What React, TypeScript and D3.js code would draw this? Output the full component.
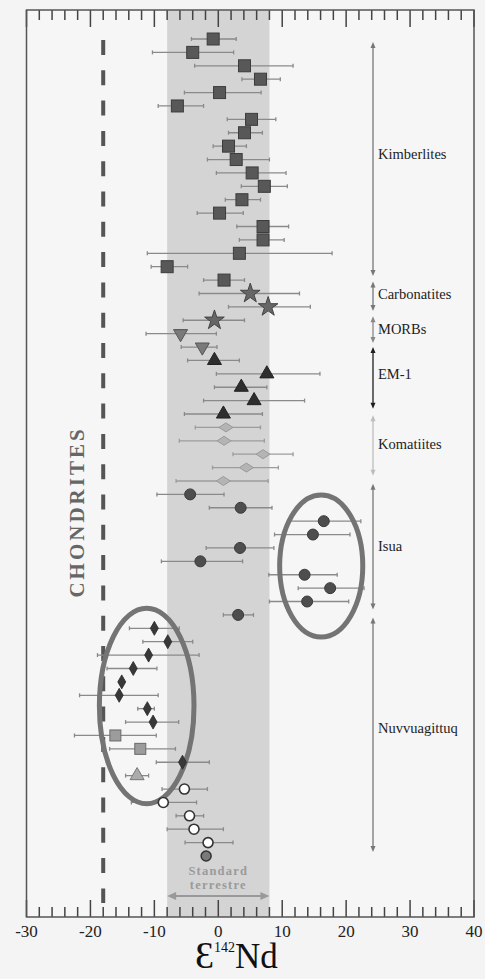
import React from 'react';
import * as d3 from 'd3';

const W = 485;
const H = 979;

// ε142Nd values, one per row (top to bottom)
const values = [
  -0.8, -4.0, 4.1, 6.6, 0.2, -6.4, 5.2, 4.1, 1.6, 2.8, 5.3, 7.2, 3.7, 0.2, 7.0, 7.0, 3.3, -8.0,
  0.9, 5.0, 7.8, -0.6,
  -5.9, -2.5,
  -0.6, 7.6, 3.6, 5.6, 0.8,
  1.2, 0.9, 7.0, 4.4, 0.8,
  -4.4, 3.5, 16.5, 14.8, 3.4, -2.8, 13.5, 17.5, 13.9, 3.1,
  -10.0, -7.9, -10.9, -13.3, -15.1, -15.5, -11.1, -10.2,
  -16.1, -12.2, -5.6, -12.7,
  -5.3, -8.6, -4.5, -3.8, -1.6, -1.9,
];
const errLow = [
  -4.2, -10.3, -3.7, 3.7, -5.3, -9.4, 1.4, 1.6, -0.8, -1.7, -0.3, 3.6, 1.1, -3.3, 2.9, 3.3, -11.1, -10.5,
  -2.3, -3.0, 1.6, -5.5,
  -11.3, -5.8,
  -4.8, -0.3, -0.6, -2.3, -5.3,
  -3.6, -6.1, 2.3, -0.9, -6.6,
  -9.6, -1.4, 10.9, 8.8, -1.9, -8.9, 7.9, 12.5, 8.0, 0.8,
  -13.9, -11.8, -18.9, -17.4, -15.1, -21.7, -12.6, -14.5,
  -22.5, -17.0, -9.7, -14.5,
  -8.8, -13.6, -6.6, -8.0, -5.2, -1.9,
];
const errHigh = [
  2.8, 2.4, 11.7, 9.7, 6.7, -2.3, 9.0, 6.9, 4.4, 8.0, 10.6, 10.8, 6.6, 3.9, 11.0, 10.3, 17.8, -4.8,
  4.1, 12.7, 14.4, 4.1,
  -0.3, -0.2,
  3.3, 15.9, 7.6, 13.5, 6.9,
  6.6, 7.2, 11.7, 9.4, 7.8,
  0.9, 8.4, 22.3, 20.6, 8.7, 3.8, 18.6, 22.8, 20.4, 5.5,
  -6.1, -4.0, -3.0, -9.6, -15.1, -9.4, -10.0, -6.2,
  -9.7, -6.7, -1.4, -10.9,
  -1.7, -3.4, -2.3, 0.8, 2.3, -1.9,
];
const markers = [
  'sq', 'sq', 'sq', 'sq', 'sq', 'sq', 'sq', 'sq', 'sq', 'sq', 'sq', 'sq', 'sq', 'sq', 'sq', 'sq', 'sq', 'sq',
  'sq', 'star', 'star', 'star',
  'tridown', 'tridown',
  'triup', 'triup', 'triup', 'triup', 'triup',
  'diaK', 'diaK', 'diaK', 'diaK', 'diaK',
  'circ', 'circ', 'circ', 'circ', 'circ', 'circ', 'circ', 'circ', 'circ', 'circ',
  'diaN', 'diaN', 'diaN', 'diaN', 'diaN', 'diaN', 'diaN', 'diaN',
  'sqL', 'sqL', 'diaN', 'triL',
  'open', 'open', 'open', 'open', 'open', 'circG',
];

// Groups (row ranges) on the right
const groupNames = ['Kimberlites', 'Carbonatites', 'MORBs', 'EM-1', 'Komatiites', 'Isua', 'Nuvvuagittuq'];
const groupFrom = [0.22, 18.1, 20.7, 23.0, 28.1, 33.2, 43.2];
const groupTo = [17.7, 20.3, 22.7, 27.6, 32.6, 42.6, 60.7];
const groupLabelAt = [8.7, 19.2, 21.8, 25.1, 30.4, 38.0, 51.6];
const groupColors = ['#777', '#777', '#888', '#1e1e1e', '#bdbdbd', '#777', '#777'];

const xTickValues = d3.range(-30, 41, 2);
const xLabelValues = [-30, -20, -10, 0, 10, 20, 30, 40];
const chondriteValue = -18;
const standardRange = [-8, 8];

export default function App() {
  const x = d3.scaleLinear().domain([-30, 40]).range([26.5, 474]);
  const y = d3.scaleLinear().domain([0, 61]).range([39, 856]);
  const top = 10;
  const bottom = 917;
  const serif = '"Liberation Serif", "DejaVu Serif", serif';

  const triPath = d3.symbol(d3.symbolTriangle, 85)() as string;
  const starPath = d3.symbol(d3.symbolStar, 120)() as string;

  const renderMarker = (m: string, cx: number, cy: number, i: number) => {
    switch (m) {
      case 'sq':
        return <rect key={i} x={cx - 6} y={cy - 6} width={12} height={12} fill="#585858" stroke="#3c3c3c" strokeWidth={1} />;
      case 'star':
        return <path key={i} d={starPath} transform={`translate(${cx},${cy})`} fill="#666" stroke="#444" strokeWidth={1} />;
      case 'tridown':
        return <path key={i} d={triPath} transform={`translate(${cx},${cy}) rotate(180)`} fill="#7a7a7a" stroke="#555" strokeWidth={1} />;
      case 'triup':
        return <path key={i} d={triPath} transform={`translate(${cx},${cy})`} fill="#2e2e2e" stroke="#222" strokeWidth={1} />;
      case 'diaK':
        return <polygon key={i} points={`${cx - 7},${cy} ${cx},${cy - 4.5} ${cx + 7},${cy} ${cx},${cy + 4.5}`} fill="#b4b4b4" stroke="#9a9a9a" strokeWidth={1} />;
      case 'circ':
        return <circle key={i} cx={cx} cy={cy} r={5.5} fill="#4e4e4e" stroke="#3a3a3a" strokeWidth={1} />;
      case 'diaN':
        return <polygon key={i} points={`${cx - 4},${cy} ${cx},${cy - 7} ${cx + 4},${cy} ${cx},${cy + 7}`} fill="#383838" stroke="#2a2a2a" strokeWidth={0.8} />;
      case 'sqL':
        return <rect key={i} x={cx - 5.5} y={cy - 5.5} width={11} height={11} fill="#9c9c9c" stroke="#6a6a6a" strokeWidth={1} />;
      case 'triL':
        return <path key={i} d={triPath} transform={`translate(${cx},${cy})`} fill="#ababab" stroke="#777" strokeWidth={1} />;
      case 'open':
        return <circle key={i} cx={cx} cy={cy} r={5} fill="#fff" stroke="#333" strokeWidth={1.6} />;
      case 'circG':
        return <circle key={i} cx={cx} cy={cy} r={5} fill="#7a7a7a" stroke="#333" strokeWidth={1.5} />;
      default:
        return null;
    }
  };

  const arrowHead = (px: number, py: number, dir: number, color: string, key: string) => (
    <path key={key} d={`M${px},${py} L${px - 2.5},${py - dir * 6} L${px + 2.5},${py - dir * 6} Z`} fill={color} />
  );

  const arrowX = 373;
  const labelX = 378;

  return (
    <svg width={W} height={H} style={{ position: 'absolute', left: 0, top: 0, background: '#f4f4f4' }}>
      <rect x={0} y={0} width={W} height={H} fill="#f4f4f4" />
      {/* plot area */}
      <rect x={x(-30)} y={top} width={x(40) - x(-30)} height={bottom - top} fill="#f6f6f6" />
      {/* standard terrestre band */}
      <rect x={x(standardRange[0])} y={top} width={x(standardRange[1]) - x(standardRange[0])} height={bottom - top} fill="#d4d4d4" />

      {/* chondrites dashed line */}
      <line x1={x(chondriteValue)} x2={x(chondriteValue)} y1={40} y2={903} stroke="#555" strokeWidth={4} strokeDasharray="15 15.3" />
      <text
        transform={`translate(${x(-21.7)},${512}) rotate(-90)`}
        textAnchor="middle"
        dominantBaseline="middle"
        fontFamily={serif}
        fontWeight="bold"
        fontSize={21}
        letterSpacing={3}
        fill="#666"
      >
        CHONDRITES
      </text>

      {/* error bars */}
      {values.map((v, i) => {
        const lo = errLow[i];
        const hi = errHigh[i];
        if (hi - lo < 0.01) return null;
        const cy = y(i);
        return (
          <g key={`e${i}`} stroke={markers[i] === 'diaK' ? '#9c9c9c' : '#8a8a8a'} strokeWidth={1.3}>
            <line x1={x(lo)} x2={x(hi)} y1={cy} y2={cy} />
            <line x1={x(lo)} x2={x(lo)} y1={cy - 2} y2={cy + 2} />
            <line x1={x(hi)} x2={x(hi)} y1={cy - 2} y2={cy + 2} />
          </g>
        );
      })}

      {/* highlight ellipses */}
      <ellipse cx={x(16.1)} cy={y(39.35)} rx={x(16.1 + 6.5) - x(16.1)} ry={y(39.35 + 5.3) - y(39.35)} fill="none" stroke="#747474" strokeWidth={5} />
      <ellipse cx={x(-11.2)} cy={y(49.8)} rx={x(-11.2 + 7.4) - x(-11.2)} ry={y(49.8 + 7.3) - y(49.8)} fill="none" stroke="#747474" strokeWidth={5} />

      {/* markers */}
      {values.map((v, i) => renderMarker(markers[i], x(v), y(i), i))}

      {/* group arrows */}
      {groupNames.map((g, i) => {
        const y1 = y(groupFrom[i]);
        const y2 = y(groupTo[i]);
        const c = groupColors[i];
        return (
          <g key={`g${i}`}>
            <line x1={arrowX} x2={arrowX} y1={y1 + 3} y2={y2 - 3} stroke={c} strokeWidth={1.3} />
            {arrowHead(arrowX, y1, -1, c, `a${i}`)}
            {arrowHead(arrowX, y2, 1, c, `b${i}`)}
            <text x={labelX} y={y(groupLabelAt[i])} dominantBaseline="middle" fontFamily={serif} fontSize={14.5} fill="#222">
              {g}
            </text>
          </g>
        );
      })}

      {/* Standard terrestre */}
      <text x={x(0)} y={875} textAnchor="middle" fontFamily={serif} fontWeight="bold" fontSize={12.5} fill="#9a9a9a" letterSpacing={1.2}>
        Standard
      </text>
      <text x={x(0)} y={889} textAnchor="middle" fontFamily={serif} fontWeight="bold" fontSize={12.5} fill="#9a9a9a" letterSpacing={1.2}>
        terrestre
      </text>
      <line x1={x(standardRange[0]) + 5} x2={x(standardRange[1]) - 5} y1={896} y2={896} stroke="#999" strokeWidth={2} />
      <path d={`M${x(standardRange[0])},896 l9,-4 l0,8 Z`} fill="#999" />
      <path d={`M${x(standardRange[1])},896 l-9,-4 l0,8 Z`} fill="#999" />

      {/* ticks */}
      {xTickValues.map((t) => {
        const major = t % 10 === 0;
        const len = major ? 17 : 10;
        const px = x(t);
        return (
          <g key={`t${t}`} stroke="#444" strokeWidth={1.5}>
            <line x1={px} x2={px} y1={top} y2={top + len} />
            <line x1={px} x2={px} y1={bottom} y2={bottom - len} />
          </g>
        );
      })}

      {/* frame */}
      <rect x={x(-30)} y={top} width={x(40) - x(-30)} height={bottom - top} fill="none" stroke="#555" strokeWidth={1.5} />

      {/* tick labels */}
      {xLabelValues.map((t) => (
        <text key={`l${t}`} x={x(t)} y={937} textAnchor="middle" fontFamily={serif} fontSize={17} fill="#222">
          {t}
        </text>
      ))}

      {/* axis title */}
      <text x={195} y={968} fontFamily={serif} fill="#111">
        <tspan fontSize={38}>Ɛ</tspan>
        <tspan fontSize={14} dy={-16}>142</tspan>
        <tspan fontSize={35} dy={16}>Nd</tspan>
      </text>
    </svg>
  );
}
